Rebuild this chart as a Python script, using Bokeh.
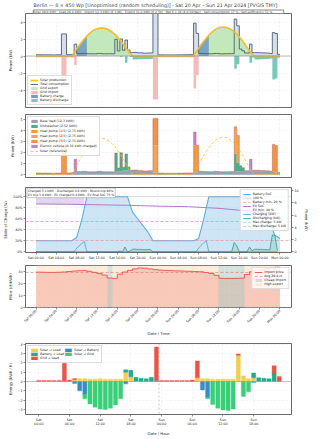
import numpy as np
from bokeh.plotting import figure
from bokeh.layouts import column
from bokeh.models import (Range1d, LinearAxis, FixedTicker, Legend, LegendItem, Span,
                          Label, Title, PrintfTickFormatter)
from bokeh.embed import file_html
from bokeh.resources import INLINE

FONT = "DejaVu Sans"

# ---------------- data ----------------
time_tick_hours = [0, 4, 8, 12, 16, 20, 24, 28, 32, 36, 40, 44, 48]
time_tick_labels = ["Sat 00:00", "Sat 04:00", "Sat 08:00", "Sat 12:00", "Sat 16:00", "Sat 20:00",
                    "Sun 00:00", "Sun 04:00", "Sun 08:00", "Sun 12:00", "Sun 16:00", "Sun 20:00",
                    "Mon 00:00"]
bar_tick_hours = [0, 6, 12, 18, 24, 30, 36, 42]
bar_tick_labels = ["Sat\n00:00", "Sat\n06:00", "Sat\n12:00", "Sat\n18:00",
                   "Sun\n00:00", "Sun\n06:00", "Sun\n12:00", "Sun\n18:00"]

# solar production (kW) every 30 min, 07:00 .. 19:00
solar_sat = [0.0, 0.35, 0.85, 1.25, 1.65, 2.0, 2.35, 2.65, 2.9, 3.1, 3.2, 3.28, 3.3, 3.27,
             3.17, 3.0, 2.8, 2.55, 2.25, 1.9, 1.52, 1.1, 0.7, 0.3, 0.0]
solar_sun = [0.05, 0.45, 0.9, 1.35, 1.75, 2.1, 2.45, 2.75, 3.0, 3.2, 3.32, 3.39, 3.4, 3.35,
             3.25, 3.07, 2.85, 2.58, 2.25, 1.88, 1.48, 1.05, 0.62, 0.22, 0.0]

# base load (kW) hourly
base_load = [0.15, 0.14, 0.14, 0.13, 0.14, 0.15, 0.16, 0.2, 0.28, 0.3, 0.27, 0.26,
             0.3, 0.26, 0.27, 0.26, 0.3, 0.38, 0.4, 0.42, 0.38, 0.34, 0.36, 0.2,
             0.14, 0.13, 0.13, 0.13, 0.14, 0.15, 0.16, 0.22, 0.3, 0.28, 0.27, 0.3,
             0.26, 0.27, 0.28, 0.3, 0.32, 0.36, 0.4, 0.4, 0.38, 0.35, 0.3, 0.2]

# appliance runs: (start hour, kW per 30-min slot)
dishwasher_runs = [(15.5, [1.7, 0.3, 1.7, 0.3, 1.5, 0.3]), (39.0, [1.6, 0.8, 0.5, 0.3])]
heat_pump_1_runs = [(5.0, [2.45, 2.45]), (31.0, [2.45, 2.45])]
heat_pump_2_runs = [(23.0, [2.45, 2.45]), (39.0, [2.45, 2.45])]
heat_pump_3_runs = [(23.0, [2.45, 2.45]), (46.5, [2.45, 2.45])]
ev_runs = [(7.5, [1.2]), (31.0, [1.2]), (42.0, [1.0])]

# battery state of charge (%) hourly, Sat 00:00 .. Mon 00:00
battery_soc = [20, 20, 20, 20, 20, 20, 20, 20, 26, 58, 100, 100, 100, 100, 100, 100, 100, 100,
               100, 72, 60, 48, 36, 20,
               20, 20, 20, 20, 20, 20, 20, 20, 24, 60, 100, 100, 100, 100, 100, 100, 100, 100,
               100, 88, 76, 64, 52, 30, 24]
ev_soc_hours = [0, 6, 12, 18, 24, 30, 36, 42, 48]
ev_soc = [87, 86.5, 85.5, 84.5, 83, 82, 79, 74, 70]
ev_plugged_hours = [0, 3, 6, 9.5]          # EV at home / plugged in (Sat morning)
ev_plugged_soc = [87, 86.8, 86.5, 85.8]
max_charge_kw = 5.0
max_discharge_kw = 5.0
battery_min_pct = 20
ev_min_pct = 40

# import price (ct/kWh) hourly
import_price = [29.5, 29.4, 29.3, 29.3, 29.4, 29.6, 30.0, 30.4, 30.7, 30.8, 30.2, 29.3,
                28.3, 27.0, 24.5, 24.3, 27.8, 29.6, 31.0, 32.3, 33.0, 32.8, 32.2, 31.6,
                31.2, 31.0, 30.8, 30.6, 30.5, 30.3, 30.2, 30.0, 29.8, 29.2, 28.3, 26.8,
                24.3, 24.2, 24.2, 24.3, 24.4, 27.5, 29.8, 31.0, 31.8, 32.5, 33.0, 33.6]
cheap_import_hours = [14, 36, 37, 38, 39, 40]

# hourly energy flows (kWh / h)
solar_to_load = [0, 0, 0, 0, 0, 0, 0, 0.2, 0.3, 0.3, 0.25, 0.25, 0.3, 0.25, 0.25, 0.25, 0.25,
                 1.0, 0.5, 0.05, 0, 0, 0, 0,
                 0, 0, 0, 0, 0, 0, 0, 0.4, 0.3, 0.3, 0.25, 0.25, 0.25, 0.25, 0.25, 2.8, 0.6,
                 0.3, 0.4, 0, 0, 0, 0, 0]
battery_to_load = [0, 0, 0, 0, 0, 0, 0, 0, 0, 0, 0, 0, 0, 0, 0, 0, 0,
                   0.25, 0.7, 0.4, 0.35, 0.3, 0.45, 0.1,
                   0, 0, 0, 0, 0, 0, 0, 0, 0, 0, 0, 0, 0, 0, 0, 0, 0, 0,
                   0.5, 0.4, 0.35, 0.3, 0.8, 0]
grid_to_load = [0.12, 0.12, 0.11, 0.11, 0.12, 1.95, 0.15, 0.12, 0, 0, 0, 0, 0, 0, 0, 0, 0,
                0, 0, 0, 0, 0, 0, 3.6,
                0.12, 0.1, 0.1, 0.1, 0.1, 0.1, 0.15, 1.8, 0, 0, 0, 0, 0, 0, 0, 0.15, 0, 0,
                0, 0, 0, 0, 0.9, 0.55]
solar_to_battery = [0, 0, 0, 0, 0, 0, 0, -0.2, -1.0, -1.4, 0, 0, 0, 0, 0, 0, 0, -0.25, 0, 0,
                    0, 0, 0, 0,
                    0, 0, 0, 0, 0, 0, 0, 0, -0.9, -1.7, 0, 0, 0, 0, 0, 0, 0, 0, -0.1, 0,
                    0, 0, 0, 0]
solar_to_grid = [0, 0, 0, 0, 0, 0, 0, 0, 0, -0.45, -2.4, -2.75, -2.95, -3.0, -2.85, -2.5,
                 -1.85, 0, 0, 0, 0, 0, 0, 0,
                 0, 0, 0, 0, 0, 0, 0, 0, 0, -0.15, -2.45, -2.85, -3.05, -3.1, -2.95, 0,
                 -1.6, -1.1, 0, 0, 0, 0, 0, 0]

title_text = ("Berlin \u2014 8 \u00d7 450 Wp  [Unoptimised (random scheduling)]  \u00b7  "
              "Sat 20 Apr \u2013 Sun 21 Apr 2024  [PVGIS TMY]")
info_text = ("Solar 49.8 kWh  \u00b7  Load 26.4 kWh  \u00b7  Import 12.3 kWh (\u20ac 3.66)  \u00b7  "
             "Export 31.2 kWh (\u20ac 2.50)  \u00b7  Net \u20ac 1.16 (\u20ac 0.58/day)  \u00b7  "
             "Self-consumption 37 %  \u00b7  Self-sufficiency 53 %")
battery_info = ("Charged 5.1 kWh \u00b7 Discharged 4.6 kWh \u00b7 Round-trip 90%\n"
                "EV trip 3.8 kWh \u00b7 EV charged 0.4 kWh \u00b7 EV final SoC 75 %")

# ---------------- derived series ----------------
t = np.arange(97) * 0.5
solar = np.zeros(97)
solar[14:39] = solar_sat
solar[62:87] = solar_sun


def profile(runs):
    arr = np.zeros(96)
    for start, vals in runs:
        i0 = int(round(start * 2))
        for k, v in enumerate(vals):
            arr[i0 + k] += v
    return arr


def ext(a):
    a = np.asarray(a, dtype=float)
    return np.append(a, a[-1])


base30 = np.repeat(np.array(base_load), 2)
dish30 = profile(dishwasher_runs)
hp1 = profile(heat_pump_1_runs)
hp2 = profile(heat_pump_2_runs)
hp3 = profile(heat_pump_3_runs)
ev30 = profile(ev_runs)
load = base30 + dish30 + hp1 + hp2 + hp3 + ev30

soc_slot = np.repeat(np.array(battery_soc[:48], dtype=float), 2)
sol = solar[:96]
surplus = np.clip(sol - load, 0, None)
deficit = np.clip(load - sol, 0, None)
charge = np.where(soc_slot < 99.5, np.minimum(surplus, max_charge_kw), 0.0)
discharge = np.where(soc_slot > battery_min_pct + 0.5, np.minimum(deficit, max_discharge_kw), 0.0)
grid_import = deficit - discharge

# ---------------- helpers ----------------
XR = Range1d(-2.07, 50.27)


def make_fig(height, x_range, y_range, b_top, b_bottom):
    return figure(width=330, height=height, x_range=x_range, y_range=y_range,
                  output_backend="svg", toolbar_location=None,
                  min_border_left=21, min_border_right=39,
                  min_border_top=b_top, min_border_bottom=b_bottom)


def style(p, ylabel, xlabel=None, show_x=True, ticks=None, labels=None):
    p.background_fill_color = "white"
    p.border_fill_color = "white"
    p.outline_line_color = "#444444"
    p.outline_line_width = 0.8
    for ax in p.axis:
        ax.axis_line_color = None
        ax.major_tick_line_color = "#444444"
        ax.major_tick_line_width = 0.6
        ax.major_tick_out = 2
        ax.major_tick_in = 0
        ax.minor_tick_line_color = None
        ax.major_label_text_font = FONT
        ax.major_label_text_font_size = "3.3px"
        ax.major_label_text_color = "#222222"
        ax.axis_label_text_font = FONT
        ax.axis_label_text_font_size = "3.8px"
        ax.axis_label_text_font_style = "normal"
        ax.axis_label_text_color = "#222222"
        ax.axis_label_standoff = 2
        ax.major_label_standoff = 1
    p.yaxis[0].axis_label = ylabel
    if xlabel:
        p.xaxis.axis_label = xlabel
    tk = ticks if ticks is not None else time_tick_hours
    lb = labels if labels is not None else time_tick_labels
    p.xaxis.ticker = FixedTicker(ticks=tk)
    p.xgrid.ticker = FixedTicker(ticks=tk)
    p.xaxis.major_label_overrides = {h: s for h, s in zip(tk, lb)}
    if not show_x:
        p.xaxis.visible = False
    p.grid.grid_line_color = "#e2e2e2"
    p.grid.grid_line_width = 0.5
    p.grid.grid_line_dash = "2 2"


def add_legend(p, items, loc, ncols=1, spacing=0):
    lg = Legend(items=[LegendItem(label=l, renderers=r) for l, r in items], location=loc)
    lg.label_text_font = FONT
    lg.label_text_font_size = "3.2px"
    lg.label_text_color = "#222222"
    lg.glyph_height = 4
    lg.glyph_width = 8
    lg.label_height = 4
    lg.label_standoff = 2
    lg.spacing = spacing
    lg.padding = 2
    lg.margin = 2
    lg.border_line_color = "#bbbbbb"
    lg.border_line_width = 0.5
    lg.background_fill_alpha = 0.85
    if ncols > 1:
        lg.ncols = ncols
    p.add_layout(lg)


def segments(mask):
    segs, i, n = [], 0, len(mask)
    while i < n:
        if mask[i]:
            j = i
            while j < n and mask[j]:
                j += 1
            segs.append((i, j))
            i = j
        else:
            i += 1
    return segs


# ---------------- panel 1: power flows ----------------
p1 = make_fig(111, XR, Range1d(-6.05, 5.0), 0, 4)
p1.title.text = title_text
p1.title.text_font = FONT
p1.title.text_font_size = "4.8px"
p1.title.text_font_style = "normal"
p1.title.align = "center"
p1.title.standoff = 1
p1.add_layout(Title(text=info_text, text_font=FONT, text_font_size="3px",
                    text_font_style="normal", align="center", standoff=0,
                    background_fill_color="white", border_line_color="#888888"), "above")

p1.varea_step(x=t, y1=0, y2=ext(load), step_mode="after", fill_color="#cdd6e2", fill_alpha=0.8)
r_exp = p1.varea(x=t, y1=0, y2=solar, fill_color="#bde5b4", fill_alpha=0.9)
r_chg = []
for a, b in segments(charge > 0):
    r_chg.append(p1.varea(x=t[a:b + 1], y1=0, y2=solar[a:b + 1], fill_color="#6f9dc4",
                          fill_alpha=0.9))
r_dis = p1.varea_step(x=t, y1=0, y2=-ext(discharge), step_mode="after",
                      fill_color="#5cc2a8", fill_alpha=0.85)
r_imp = p1.varea_step(x=t, y1=-ext(discharge), y2=-ext(discharge + grid_import),
                      step_mode="after", fill_color="#f4b3b3", fill_alpha=0.9)
p1.add_layout(Span(location=0, dimension="width", line_color="#888888", line_width=0.6))
r_cons = p1.step(x=t, y=ext(load), mode="after", line_color="#4e5c78", line_width=0.9)
r_sol = p1.line(x=t, y=solar, line_color="#f3bd2f", line_width=1.6)
p1.yaxis.ticker = FixedTicker(ticks=[-4, -2, 0, 2, 4])
style(p1, "Power (kW)", show_x=False)
add_legend(p1, [("Solar production", [r_sol]), ("Total consumption", [r_cons]),
                ("Grid export", [r_exp]), ("Grid import", [r_imp]),
                ("Battery charge", r_chg), ("Battery discharge", [r_dis])], "bottom_left")

# ---------------- panel 2: appliance loads ----------------
p2 = make_fig(70, XR, Range1d(-0.26, 5.47), 3, 4)
layers = [("Base load (12.3 kWh)", base30, "#8e97aa"),
          ("Dishwasher (2.52 kWh)", dish30, "#3aa57c"),
          ("Heat pump (1/3) (2.75 kWh)", hp1, "#f28e2b"),
          ("Heat pump (2/3) (2.75 kWh)", hp2, "#f39a3c"),
          ("Heat pump (3/3) (2.75 kWh)", hp3, "#ef8630"),
          ("Electric vehicle (0.36 kWh charged)", ev30, "#b07cc6")]
cum = np.zeros(96)
items2 = []
for name, arr, col in layers:
    r = p2.varea_step(x=t, y1=ext(cum), y2=ext(cum + arr), step_mode="after",
                      fill_color=col, fill_alpha=0.9)
    cum = cum + arr
    items2.append((name, [r]))
p2.step(x=t, y=ext(cum), mode="after", line_color="#b5524f", line_width=0.5, line_alpha=0.8)
r_sref = p2.line(x=t, y=solar, line_color="#f3bd2f", line_width=0.8, line_dash="3 2")
items2.append(("Solar (reference)", [r_sref]))
p2.yaxis.ticker = FixedTicker(ticks=[0, 1, 2, 3, 4, 5])
style(p2, "Power (kW)", show_x=False)
add_legend(p2, items2, "top_left", spacing=1)

# ---------------- panel 3: battery / EV ----------------
hrs49 = np.arange(49)
p3 = make_fig(82, XR, Range1d(-1.5, 117), 6, 11)
p3.extra_y_ranges = {"pw": Range1d(-0.12, 10.5)}
p3.add_layout(LinearAxis(y_range_name="pw", axis_label="Power (kW)"), "right")
r_socf = p3.varea(x=hrs49, y1=0, y2=battery_soc, fill_color="#aed3ee", fill_alpha=0.6)
p3.varea(x=ev_plugged_hours, y1=ev_plugged_soc, y2=[100] * len(ev_plugged_hours),
         fill_color="#cdb3e3", fill_alpha=0.55)
r_soc = p3.line(x=hrs49, y=battery_soc, line_color="#5dade2", line_width=1.1)
r_100 = p3.hspan(y=[100], line_color="#aaaaaa", line_width=0.6, line_dash="1 1")
r_min = p3.hspan(y=[battery_min_pct], line_color="#e88c8c", line_width=0.6, line_dash="3 2")
r_ev = p3.line(x=ev_soc_hours, y=ev_soc, line_color="#b07cc6", line_width=1.0)
r_evmin = p3.hspan(y=[ev_min_pct], line_color="#d8bfe6", line_width=0.5, line_dash="1 1")
p3.varea(x=t[:96], y1=0, y2=discharge, fill_color="#76c7b5", fill_alpha=0.35, y_range_name="pw")
r_chl = p3.line(x=t[:96], y=charge, line_color="#3a95d8", line_width=0.7, y_range_name="pw")
r_dsl = p3.line(x=t[:96], y=discharge, line_color="#15967c", line_width=0.7, y_range_name="pw")
r_mc = p3.hspan(y=[max_charge_kw], line_color="#8fc3e8", line_width=0.6, line_dash="3 2",
                y_range_name="pw")
r_md = p3.hspan(y=[max_discharge_kw], line_color="#7ccdb9", line_width=0.6, line_dash="3 2",
                y_range_name="pw")
p3.yaxis[0].ticker = FixedTicker(ticks=[0, 20, 40, 60, 80, 100])
p3.yaxis[0].formatter = PrintfTickFormatter(format="%d%%")
p3.yaxis[1].ticker = FixedTicker(ticks=[0, 2, 4, 6, 8, 10])
style(p3, "State of Charge (%)")
p3.add_layout(Label(x=XR.start + 0.3, y=116, text=battery_info, text_baseline="top",
                    text_font=FONT, text_font_size="3px", text_color="#222222",
                    background_fill_color="white", border_line_color="#888888",
                    border_line_width=0.5, padding=1))
add_legend(p3, [("Battery SoC", [r_soc]), ("100 %", [r_100]),
                ("Battery min. 20 %", [r_min]), ("EV SoC", [r_ev]),
                ("EV min. 40 %", [r_evmin]), ("Charging (kW)", [r_chl]),
                ("Discharging (kW)", [r_dsl]), ("Max charge: 5 kW", [r_mc]),
                ("Max discharge: 5 kW", [r_md])], "top_right")

# ---------------- panel 4: prices ----------------
hrs = np.arange(48)
p4 = make_fig(75, XR, Range1d(-0.3, 35.1), 2, 26)
high_export_hours = [h for h in hrs if h not in cheap_import_hours]
r_hi = p4.vstrip(x0=high_export_hours, x1=[h + 1 for h in high_export_hours],
                 fill_color="#fde3c8", fill_alpha=0.7, line_color=None)
p4.varea_step(x=hrs49, y1=0, y2=ext(import_price), step_mode="after",
              fill_color="#f3b2a5", fill_alpha=0.6)
r_ch = p4.vstrip(x0=cheap_import_hours, x1=[h + 1 for h in cheap_import_hours],
                 fill_color="#9ebfb2", fill_alpha=0.45, line_color=None)
r_pr = p4.step(x=hrs49, y=ext(import_price), mode="after", line_color="#e0524a",
               line_width=0.9)
avg_price = float(np.mean(import_price))
r_avg = p4.hspan(y=[avg_price], line_color="#e07070", line_width=0.6, line_dash="3 2")
p4.yaxis.ticker = FixedTicker(ticks=[0, 10, 20, 30])
style(p4, "Price (ct/kWh)", xlabel="Date / Time")
p4.xaxis.major_label_orientation = 0.785
add_legend(p4, [("Import price", [r_pr]), (f"Avg {avg_price:.1f} ct", [r_avg]),
                ("Cheap import", [r_ch]), ("High export", [r_hi])], "top_right")

# ---------------- panel 5: hourly energy flows ----------------
p5 = make_fig(101, Range1d(-2.6, 49.4), Range1d(-3.53, 4.07), 5, 17)
stl = np.array(solar_to_load, float)
btl = np.array(battery_to_load, float)
gtl = np.array(grid_to_load, float)
stb = np.array(solar_to_battery, float)
stg = np.array(solar_to_grid, float)


def bars(vals, bottom, col):
    m = vals != 0
    return p5.vbar(x=hrs[m], bottom=bottom[m], top=(bottom + vals)[m], width=0.8,
                   fill_color=col, fill_alpha=0.95, line_color=col, line_alpha=0.3,
                   line_width=1.2)


zero = np.zeros(48)
r_sl = bars(stl, zero, "#f7c948")
r_bl = bars(btl, stl, "#17a589")
r_gl = bars(gtl, stl + btl, "#e74c3c")
r_sb = bars(stb, zero, "#2e86c1")
r_sg = bars(stg, stb, "#2ecc71")
p5.add_layout(Span(location=0, dimension="width", line_color="#999999", line_width=0.6))
p5.add_layout(Span(location=23.5, dimension="height", line_color="#aaaaaa", line_width=0.6,
                   line_dash="2 2"))
p5.yaxis.ticker = FixedTicker(ticks=[-3, -2, -1, 0, 1, 2, 3, 4])
style(p5, "Energy (kWh / h)", xlabel="Date / Hour", ticks=bar_tick_hours,
      labels=bar_tick_labels)
add_legend(p5, [("Solar \u2192 Load", [r_sl]), ("Battery \u2192 Load", [r_bl]),
                ("Grid \u2192 Load", [r_gl]), ("Solar \u2192 Battery", [r_sb]),
                ("Solar \u2192 Grid", [r_sg])], "top_left", ncols=2)

layout = column(p1, p2, p3, p4, p5)
open("out.html", "w").write(file_html(layout, INLINE))
